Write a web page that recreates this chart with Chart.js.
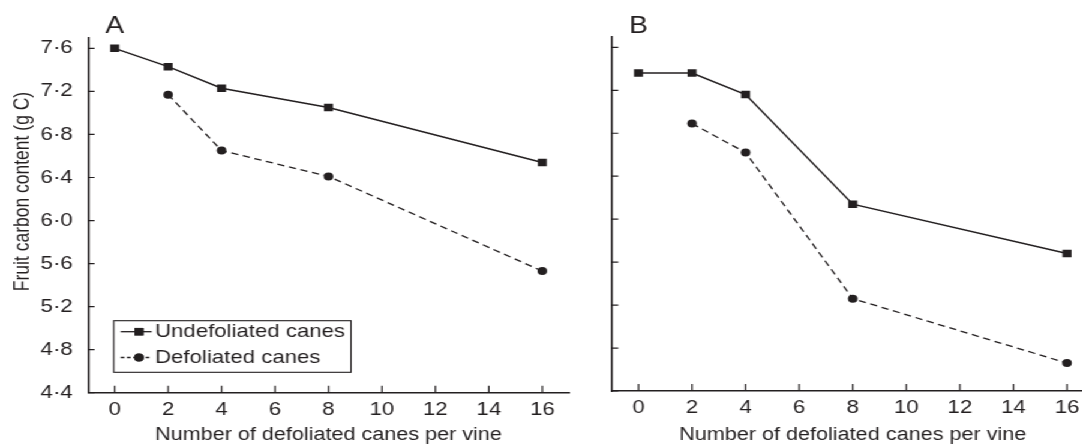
<!DOCTYPE html>
<html>
<head>
<meta charset="utf-8">
<script src="https://cdn.jsdelivr.net/npm/chart.js@4/dist/chart.umd.min.js"></script>
<style>
  html, body { margin: 0; padding: 0; overflow: hidden; background: #fff; width: 1082px; height: 445px; }
  /* the source figure is stretched sideways, so the whole drawing is too */
  #wrap { position: relative; width: 930px; height: 445px; transform: scaleX(1.2); transform-origin: 0 0; }
  #chartA { position: absolute; left: 0; top: 0; }
  #chartB { position: absolute; left: 490px; top: 0; }
</style>
</head>
<body>
<div id="wrap">
  <canvas id="chartA" width="480" height="445"></canvas>
  <canvas id="chartB" width="440" height="445"></canvas>
</div>
<script>
// Data
const canes = [0, 2, 4, 8, 16];
const undefoliatedA = [7.60, 7.43, 7.23, 7.05, 6.54];
const defoliatedA = [null, 7.17, 6.65, 6.41, 5.53];
const undefoliatedB = [7.36, 7.36, 7.16, 6.14, 5.68];
const defoliatedB = [null, 6.89, 6.62, 5.26, 4.66];

const xTicks = [0, 2, 4, 6, 8, 10, 12, 14, 16];
const yTicks = [4.4, 4.8, 5.2, 5.6, 6.0, 6.4, 6.8, 7.2, 7.6];
const seriesLabels = ['Undefoliated canes', 'Defoliated canes'];
const xTitle = 'Number of defoliated canes per vine';
const yTitle = 'Fruit carbon content (g C)';

const ink = '#231f20';
const FONT = '"Liberation Sans", Arial, Helvetica, sans-serif';
Chart.defaults.font.family = FONT;
Chart.defaults.color = ink;

function toPoints(values) {
  return canes.map((x, i) => ({ x, y: values[i] })).filter((p) => p.y !== null);
}

// inward tick marks, panel letter, axis titles, legend box
const decor = {
  id: 'decor',
  afterDraw(chart, args, opts) {
    const { ctx, chartArea: ca, scales: { x, y } } = chart;
    ctx.save();
    ctx.strokeStyle = ink;
    ctx.fillStyle = ink;
    ctx.lineWidth = 1.2;
    ctx.beginPath();
    xTicks.forEach((v) => {
      const px = x.getPixelForValue(v);
      ctx.moveTo(px, ca.bottom);
      ctx.lineTo(px, ca.bottom - 7);
    });
    yTicks.forEach((v) => {
      const py = y.getPixelForValue(v);
      ctx.moveTo(ca.left, py);
      ctx.lineTo(ca.left + 5.5, py);
    });
    ctx.stroke();

    ctx.font = '23.5px ' + FONT;
    ctx.textBaseline = 'alphabetic';
    ctx.textAlign = 'left';
    ctx.fillText(opts.letter, ca.left + 14.4, 33.3);

    ctx.font = '18px ' + FONT;
    ctx.textAlign = 'center';
    ctx.fillText(xTitle, x.getPixelForValue(8), 440);

    if (opts.yTitle) {
      ctx.save();
      ctx.font = '17.5px ' + FONT;
      ctx.translate(23.8, 191.5);
      ctx.rotate(-Math.PI / 2);
      ctx.fillText(yTitle, 0, 0);
      ctx.restore();
    }

    if (opts.legend) {
      const box = { left: 94.8, right: 292.5, top: 320.7, bottom: 372.3 };
      ctx.lineWidth = 1.1;
      ctx.strokeRect(box.left, box.top, box.right - box.left, box.bottom - box.top);
      const rows = [331.7, 357.5];
      chart.data.datasets.forEach((ds, i) => {
        const ry = rows[i];
        ctx.save();
        ctx.lineWidth = 1.3;
        ctx.setLineDash(i === 0 ? [] : [3, 2.2]);
        ctx.beginPath();
        ctx.moveTo(100.6, ry);
        ctx.lineTo(126.4, ry);
        ctx.stroke();
        ctx.restore();
        Chart.helpers.drawPoint(ctx, {
          pointStyle: ds.pointStyle, radius: ds.pointRadius, rotation: 0, borderWidth: 0
        }, 115.8, ry);
        ctx.fill();
        ctx.font = '18.5px ' + FONT;
        ctx.textAlign = 'left';
        ctx.textBaseline = 'middle';
        ctx.fillText(ds.label, 129.2, ry + 0.5);
      });
    }
    ctx.restore();
  }
};

function makeChart(id, undef, def, cfg) {
  const ctx = document.getElementById(id).getContext('2d');
  return new Chart(ctx, {
    type: 'line',
    data: {
      datasets: [
        {
          label: seriesLabels[0],
          data: toPoints(undef),
          borderColor: ink,
          backgroundColor: ink,
          borderWidth: 1.5,
          pointStyle: 'rect',
          pointRadius: 5.3,
          pointBorderWidth: 0,
          tension: 0,
        },
        {
          label: seriesLabels[1],
          data: toPoints(def),
          borderColor: ink,
          backgroundColor: ink,
          borderWidth: 1.3,
          borderDash: [6, 4],
          pointStyle: 'circle',
          pointRadius: 4,
          pointBorderWidth: 0,
          tension: 0,
        },
      ],
    },
    options: {
      responsive: false,
      animation: false,
      devicePixelRatio: 1,
      layout: { padding: { left: 0, right: cfg.padRight, top: cfg.padTop, bottom: 0 } },
      plugins: {
        legend: { display: false },
        tooltip: { enabled: false },
        decor: { letter: cfg.letter, yTitle: cfg.showY, legend: cfg.showLegend },
      },
      scales: {
        x: {
          type: 'linear',
          min: -1,
          max: 17,
          grid: { display: false, drawTicks: false },
          border: { display: true, color: ink, width: 1.6 },
          afterBuildTicks: (s) => { s.ticks = xTicks.map((v) => ({ value: v })); },
          afterFit: (s) => { s.height = cfg.xHeight; },
          ticks: { padding: 6, font: { size: 18.5 }, color: ink },
        },
        y: {
          min: 4.4,
          max: 7.7,
          grid: { display: false, drawTicks: false },
          border: { display: true, color: ink, width: 1.6 },
          afterBuildTicks: (s) => { s.ticks = yTicks.map((v) => ({ value: v })); },
          afterFit: (s) => { s.width = cfg.yWidth; },
          ticks: {
            display: cfg.showY,
            padding: 12.7,
            font: { size: 18.5 },
            color: ink,
            callback: (v) => v.toFixed(1).replace('.', '\u00b7'),
          },
        },
      },
    },
    plugins: [decor],
  });
}

makeChart('chartA', undefoliatedA, defoliatedA, {
  letter: 'A', showY: true, showLegend: true,
  yWidth: 73.3, xHeight: 52.3, padTop: 37.6, padRight: 5.8,
});
makeChart('chartB', undefoliatedB, defoliatedB, {
  letter: 'B', showY: false, showLegend: false,
  yWidth: 19.75, xHeight: 54, padTop: 36.6, padRight: 18.5,
});
</script>
</body>
</html>
